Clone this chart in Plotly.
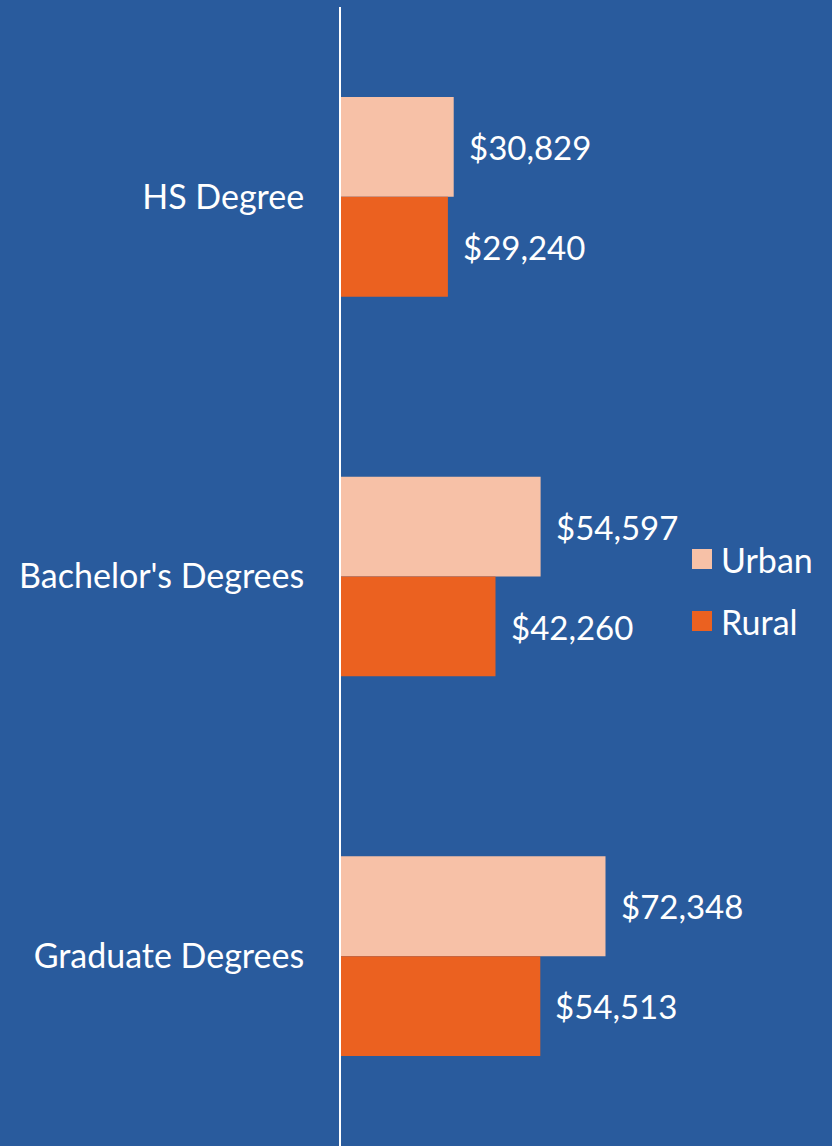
import plotly.graph_objects as go

categories = ["HS Degree", "Bachelor's Degrees", "Graduate Degrees"]
urban = [30829, 54597, 72348]
rural = [29240, 42260, 54513]
series_names = ["Urban", "Rural"]

W, H = 832, 1146
BG = "#295B9D"
C_URBAN = "#F7C1A7"
C_RURAL = "#EB6120"
FONT = "Lato"

fig = go.Figure()
fig.add_trace(go.Bar(y=categories, x=urban, orientation="h", name=series_names[0],
                     marker=dict(color=C_URBAN, line=dict(width=0)), showlegend=False,
                     hoverinfo="skip"))
fig.add_trace(go.Bar(y=categories, x=rural, orientation="h", name=series_names[1],
                     marker=dict(color=C_RURAL, line=dict(width=0)), showlegend=False,
                     hoverinfo="skip"))

annotations = []
for cat, u, r in zip(categories, urban, rural):
    annotations.append(dict(x=u, y=cat, xref="x", yref="y", text=f"${u:,}", showarrow=False,
                            xanchor="left", yanchor="middle", xshift=13, yshift=50,
                            font=dict(family=FONT, size=33, color="white")))
    annotations.append(dict(x=r, y=cat, xref="x", yref="y", text=f"${r:,}", showarrow=False,
                            xanchor="left", yanchor="middle", xshift=13, yshift=-50,
                            font=dict(family=FONT, size=33, color="white")))

# manual legend
shapes = []
leg_items = [(series_names[0], C_URBAN, 559), (series_names[1], C_RURAL, 621)]
for name, col, cy in leg_items:
    shapes.append(dict(type="rect", xref="paper", yref="paper",
                       x0=692 / W, x1=712 / W, y0=1 - (cy + 10) / H, y1=1 - (cy - 10) / H,
                       fillcolor=col, line=dict(width=0)))
    annotations.append(dict(x=719 / W, y=1 - cy / H, xref="paper", yref="paper", text=name,
                            showarrow=False, xanchor="left", yanchor="middle",
                            font=dict(family=FONT, size=34, color="white")))

fig.update_layout(
    width=W, height=H,
    paper_bgcolor=BG, plot_bgcolor=BG,
    margin=dict(l=0, r=0, t=0, b=0),
    barmode="group", bargap=0.474, bargroupgap=0,
    showlegend=False,
    xaxis=dict(domain=[341 / W, 1], range=[0, 134300], visible=False, showgrid=False,
               zeroline=False, fixedrange=True),
    yaxis=dict(domain=[0, 1 - 7 / H], autorange="reversed", showline=True, linecolor="white",
               linewidth=2, showgrid=False, zeroline=False, ticks="", ticklabelstandoff=28,
               automargin=False, fixedrange=True,
               tickfont=dict(family=FONT, size=34, color="white")),
    annotations=annotations,
    shapes=shapes,
)

fig.write_html("out.html", config={"displayModeBar": False},
               post_script="document.body.style.margin='0';document.body.style.background='%s';" % BG)
